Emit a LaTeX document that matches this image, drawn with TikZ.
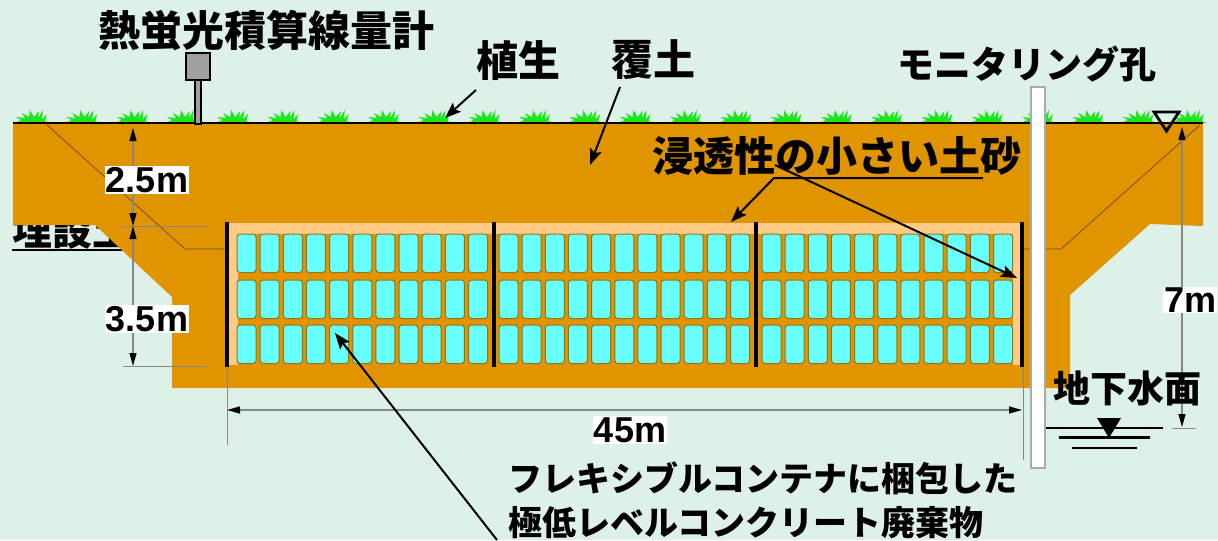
\documentclass[tikz,border=0pt]{standalone}
\usepackage{fontspec}
\setmainfont{Liberation Sans}
\newfontfamily\jp{Noto Sans CJK JP}
\usetikzlibrary{arrows.meta,positioning}

\definecolor{bgmint}{RGB}{222,241,232}
\definecolor{soil}{RGB}{224,148,0}
\definecolor{peach}{RGB}{255,204,136}
\definecolor{bagcyan}{RGB}{104,255,255}
\definecolor{bagedge}{RGB}{140,118,30}
\definecolor{grass}{RGB}{30,230,30}
\definecolor{seam}{RGB}{120,80,10}
\definecolor{dimgrey}{RGB}{135,135,135}

\begin{document}
\begin{tikzpicture}[x=0.5pt,y=-0.5pt,
	jptext/.style={font=\jp\bfseries\fontsize{#1}{#1}\selectfont,inner sep=0pt},
	dimlabel/.style={font=\bfseries\fontsize{18pt}{18pt}\selectfont,fill=white,inner sep=0.5pt},
	dimline/.style={draw=dimgrey,line width=0.6pt,{Triangle[length=6.5pt,width=3.5pt,color=black]}-{Triangle[length=6.5pt,width=3.5pt,color=black]}},
	extline/.style={draw=dimgrey,line width=0.5pt},
	callout/.style={draw=black,line width=1pt,-{Stealth[length=8pt,width=6pt,inset=1.5pt]}},
	wastebag/.style={fill=bagcyan,draw=bagedge,line width=0.5pt,rounded corners=1.5pt},
	wall/.style={draw=black,line width=2pt},
	seamline/.style={draw=seam,line width=0.4pt}]

	\fill[bgmint] (0,0) rectangle (1218,540);
	\useasboundingbox (0,0) rectangle (1218,540);

	\node[jptext=20pt,anchor=base west] (buried) at (12,245) {埋設土};
	\draw[line width=1.3pt] (12,250) -- (135,250);

	\fill[soil] (13,123) -- (1203,123) -- (1203,226) -- (1150,224) -- (1070,295) -- (1070,388)
		-- (172,388) -- (172,297) -- (95,225) -- (13,225) -- cycle;

	\draw[seamline] (47,125) -- (185,249) -- (227,249);
	\draw[seamline] (1200,125) -- (1061,249) -- (1022,249);

	\fill[peach] (229,223) rectangle (1020,365);
	\fill[soil] (238,234) rectangle (1013,365);
	\foreach \sx in {237,499,762}
		\foreach \i in {0,...,10}
			\foreach \ry in {234,280,325}
				\draw[wastebag] (\sx+\i*23.15,\ry) rectangle ++(19,38.5);
	\foreach \wx in {227,494,756,1022}
		\draw[wall] (\wx,222) -- (\wx,367);

	\foreach \i in {0,...,23}
		\fill[grass,shift={(32+\i*50.3,123)}] (-17,0) -- (-11,-3) -- (-16,-6) -- (-7,-5) -- (-10,-10)
			-- (-3,-6) -- (-2,-13) -- (2,-6) -- (7,-12) -- (6,-5) -- (11,-13) -- (10,-4)
			-- (15,-9) -- (13,-2) -- (18,0) -- cycle;
	\draw[line width=0.9pt] (13,123) -- (1203,123);

	\draw[fill={rgb,255:red,160;green,160;blue,160},line width=0.9pt] (195,80) rectangle (201,124);
	\draw[fill={rgb,255:red,160;green,160;blue,160},line width=1pt] (186,53) rectangle (210,80);
	\node[jptext=21pt] (tld) at (266,31) {熱蛍光積算線量計};

	\draw[fill=white,draw={rgb,255:red,170;green,170;blue,170},line width=0.6pt] (1031,87) rectangle (1045,468);
	\node[jptext=18.5pt] (hole) at (1027,64) {モニタリング孔};

	\node[jptext=21pt] (veg) at (518,61) {植生};
	\node[jptext=21pt] (cover) at (653,60) {覆土};
	\coordinate (veg from) at (476,90);
	\coordinate (veg to) at (445,118);
	\coordinate (cover from) at (620,87);
	\coordinate (cover to) at (590,165);
	\draw[callout] (veg from) -- (veg to);
	\draw[callout] (cover from) -- (cover to);

	\node[jptext=20.5pt] (lowperm) at (837,156) {浸透性の小さい土砂};
	\coordinate (lead end) at (983,178);
	\coordinate (lead knee) at (774,178);
	\coordinate (peach top) at (731,222);
	\coordinate (lead start) at (775,165);
	\coordinate (peach side) at (1017,278);
	\draw[callout] (lead end) -- (lead knee) -- (peach top);
	\draw[callout] (lead start) -- (peach side);

	\coordinate (d top) at (133,128);
	\coordinate (d mid) at (133,226);
	\coordinate (d bot) at (133,366);
	\draw[extline] (123,226) -- (207,226);
	\draw[extline] (123,366) -- (207,366);
	\draw[dimline] (d top) -- (d mid);
	\draw[dimline] (d mid) -- (d bot);
	\node[dimlabel] (cov depth) at (147,180) {2.5m};
	\node[dimlabel] (waste depth) at (147,319) {3.5m};

	\coordinate (w left) at (227,410);
	\coordinate (w right) at (1022,410);
	\draw[extline] (227,367) -- (227,445);
	\draw[extline] (1023,367) -- (1023,460);
	\draw[dimline] (w left) -- (w right);
	\node[dimlabel] (width) at (630,430) {45m};

	\coordinate (gw top) at (1182,127);
	\coordinate (gw bot) at (1182,427);
	\draw[extline] (1172,428) -- (1196,428);
	\draw[dimline] (gw top) -- (gw bot);
	\node[dimlabel] (gw depth) at (1190,300) {7m};

	\draw[line width=1.4pt] (1154,112) -- (1179,112) -- (1166.5,131) -- cycle;

	\node[jptext=18.5pt] (gwlevel) at (1127,388) {地下水面};
	\fill (1097,418) -- (1121,418) -- (1109,438) -- cycle;
	\draw[line width=1.3pt] (1046,428) -- (1163,428);
	\draw[line width=1.3pt] (1059,437.5) -- (1150,437.5);
	\draw[line width=1.3pt] (1072,448) -- (1137,448);

	\node[jptext=17pt,anchor=north west,align=left,font=\jp\bfseries\fontsize{17pt}{22pt}\selectfont] (waste) at (508,461)
		{フレキシブルコンテナに梱包した\\極低レベルコンクリート廃棄物};
	\coordinate (waste from) at (497,540);
	\coordinate (waste to) at (335,333);
	\draw[callout] (waste from) -- (waste to);
\end{tikzpicture}
\end{document}
